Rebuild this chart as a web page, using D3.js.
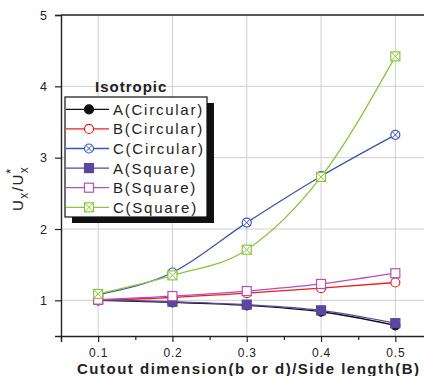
<!DOCTYPE html>
<html>
<head>
<meta charset="utf-8">
<script src="https://cdn.jsdelivr.net/npm/d3@7"></script>
<style>
  body { margin: 0; background: #fff; }
  svg { display: block; font-family: "Liberation Sans", Arial, sans-serif; }
</style>
</head>
<body>
<svg id="chart" width="424" height="376"></svg>
<script>
// ratio values
const xValues = [0.1, 0.2, 0.3, 0.4, 0.5];
const aCircular = [1.00, 0.97, 0.93, 0.84, 0.65];
const bCircular = [1.00, 1.04, 1.10, 1.17, 1.25];
const cCircular = [1.08, 1.39, 2.09, 2.74, 3.32];
const aSquare = [1.01, 0.98, 0.94, 0.86, 0.68];
const bSquare = [1.01, 1.06, 1.13, 1.23, 1.38];
const cSquare = [1.09, 1.35, 1.71, 2.73, 4.42];
const yTicks = [1, 2, 3, 4, 5];
const xTicks = [0.1, 0.2, 0.3, 0.4, 0.5];
const xMinorTicks = [0.05, 0.15, 0.25, 0.35, 0.45];

const series = [
  { name: "A(Circular)", values: aCircular, color: "#111111", marker: "circleFilled" },
  { name: "B(Circular)", values: bCircular, color: "#f21c1c", marker: "circleOpen" },
  { name: "C(Circular)", values: cCircular, color: "#3a56b0", marker: "circleCross" },
  { name: "A(Square)", values: aSquare, color: "#5a479f", marker: "squareFilled" },
  { name: "B(Square)", values: bSquare, color: "#b450b8", marker: "squareOpen" },
  { name: "C(Square)", values: cSquare, color: "#8cc63e", marker: "squareCross" }
];

const svg = d3.select("#chart");
const plotLeft = 61, plotTop = 15, plotBottom = 336;

const x = d3.scaleLinear().domain([0.05, 0.55]).range([plotLeft, plotLeft + 743 * 0.5]);
const y = d3.scaleLinear().domain([0.5, 5]).range([plotBottom, plotTop]);

// grid
const grid = svg.append("g").attr("stroke", "#cfcfcf").attr("stroke-width", 1);
grid.selectAll("line.gx")
  .data(xTicks)
  .enter()
  .append("line")
  .attr("x1", d => x(d)).attr("x2", d => x(d))
  .attr("y1", plotTop).attr("y2", plotBottom);
grid.selectAll("line.gy")
  .data(yTicks.slice(0, -1))
  .enter()
  .append("line")
  .attr("x1", plotLeft).attr("x2", x(0.55))
  .attr("y1", d => y(d)).attr("y2", d => y(d));

// axes
const xAxis = svg.append("g")
  .attr("transform", `translate(0,${ plotBottom })`)
  .call(d3.axisBottom(x).tickValues(xTicks).tickSize(6).tickPadding(6).tickFormat(d3.format(".1f")));
svg.append("g")
  .attr("transform", `translate(0,${ plotBottom })`)
  .call(d3.axisBottom(x).tickValues(xMinorTicks).tickSize(4).tickFormat(""))
  .call(g => g.select(".domain").remove());
const yAxis = svg.append("g")
  .attr("transform", `translate(${ plotLeft },0)`)
  .call(d3.axisLeft(y).tickValues(yTicks).tickSize(6).tickPadding(8).tickFormat(d3.format("d")));

svg.selectAll(".domain").attr("stroke", "#222").attr("stroke-width", 1.4);
svg.selectAll(".tick line").attr("stroke", "#222").attr("stroke-width", 1.2);
xAxis.selectAll("text").style("font-size", "12px").style("letter-spacing", "0.8px").attr("fill", "#222");
yAxis.selectAll("text").style("font-size", "12.5px").attr("fill", "#222");

// top frame line
svg.append("line")
  .attr("x1", plotLeft).attr("x2", x(0.55))
  .attr("y1", plotTop).attr("y2", plotTop)
  .attr("stroke", "#222").attr("stroke-width", 1.4);

// markers
function drawMarker(g, type, color, size)
{
  const r = size / 2;
  if (type.startsWith("circle"))
  {
    g.append("circle").attr("r", r)
      .attr("fill", type === "circleFilled" ? color : "#fff")
      .attr("stroke", color).attr("stroke-width", 1.2);
  }
  else
  {
    g.append("rect").attr("x", -r).attr("y", -r).attr("width", size).attr("height", size)
      .attr("fill", type === "squareFilled" ? color : "#fff")
      .attr("stroke", color).attr("stroke-width", 1.2);
  }
  if (type.endsWith("Cross"))
  {
    const k = type === "circleCross" ? r * 0.72 : r;
    g.append("path")
      .attr("d", `M${ -k },${ -k }L${ k },${ k }M${ -k },${ k }L${ k },${ -k }`)
      .attr("stroke", color).attr("stroke-width", 1);
  }
}

const line = d3.line()
  .x((d, i) => x(xValues[i]))
  .y(d => y(d))
  .curve(d3.curveMonotoneX);

series.forEach(s =>
{
  svg.append("path")
    .attr("d", line(s.values))
    .attr("fill", "none")
    .attr("stroke", s.color)
    .attr("stroke-width", 1.3);
  s.values.forEach((v, i) =>
  {
    const g = svg.append("g").attr("transform", `translate(${ x(xValues[i]) },${ y(v) })`);
    drawMarker(g, s.marker, s.color, 9);
  });
});

// legend
const lg = { x: 65, y: 97, w: 142, h: 120 };
svg.append("rect")
  .attr("x", lg.x + 7).attr("y", lg.y + 6).attr("width", lg.w).attr("height", lg.h)
  .attr("fill", "#111");
svg.append("rect")
  .attr("x", lg.x).attr("y", lg.y).attr("width", lg.w).attr("height", lg.h)
  .attr("fill", "#fff").attr("stroke", "#111").attr("stroke-width", 1.2);

svg.append("text")
  .attr("x", 95).attr("y", 92)
  .style("font-size", "15px").style("font-weight", "bold").style("letter-spacing", "1px")
  .attr("fill", "#222")
  .text("Isotropic");

const legendItem = svg.selectAll("g.legend-item")
  .data(series)
  .enter()
  .append("g")
  .attr("class", "legend-item")
  .attr("transform", (d, i) => `translate(0,${ 109.3 + i * 19.6 })`);

legendItem.append("line")
  .attr("x1", 66).attr("x2", 109)
  .attr("stroke", d => d.color).attr("stroke-width", 1.3);
legendItem.each(function (d)
{
  const g = d3.select(this).append("g").attr("transform", "translate(89,0)");
  drawMarker(g, d.marker, d.color, 9);
});
legendItem.append("text")
  .attr("x", 113).attr("y", 0).attr("dy", "0.36em")
  .style("font-size", "15px").style("letter-spacing", "1.75px")
  .attr("fill", "#222")
  .text(d => d.name);

// axis titles
svg.append("text")
  .attr("x", 77).attr("y", 374)
  .style("font-size", "15px").style("font-weight", "bold").style("letter-spacing", "1.5px")
  .attr("fill", "#222")
  .text("Cutout dimension(b or d)/Side length(B)");

const yTitle = svg.append("text")
  .attr("transform", "translate(23,211) rotate(-90)")
  .style("font-size", "15px").style("letter-spacing", "1.5px")
  .attr("fill", "#222");
yTitle.append("tspan").text("U");
yTitle.append("tspan").attr("dy", 5).style("font-size", "12px").text("x");
yTitle.append("tspan").attr("dy", -5).text("/U");
yTitle.append("tspan").attr("dy", 5).style("font-size", "12px").text("x");
yTitle.append("tspan").attr("dy", -13).attr("dx", -8).style("font-size", "13px").text("*");
</script>
</body>
</html>
